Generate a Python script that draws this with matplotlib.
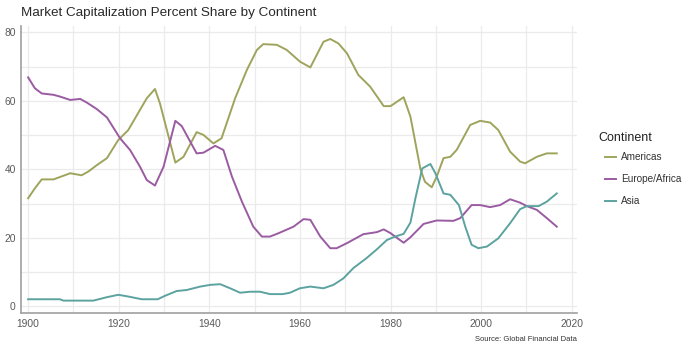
import matplotlib
matplotlib.use("Agg")
import matplotlib.pyplot as plt
from matplotlib.ticker import MultipleLocator

plt.rcParams['font.family'] = ['Liberation Sans', 'DejaVu Sans']

title = "Market Capitalization Percent Share by Continent"
source = "Source: Global Financial Data"
legend_title = "Continent"

americas_years = [1900, 1901.5, 1903, 1905.6, 1909.3, 1911.8, 1913.3, 1915.2, 1917.4, 1919.9,
                  1922.1, 1926.2, 1928, 1929.1, 1932.5, 1934.3, 1937.2, 1938.7, 1940.9, 1942.7,
                  1945.7, 1948.3, 1950.5, 1951.9, 1954.9, 1957.1, 1960, 1962.3, 1965.2, 1966.7,
                  1968.5, 1970.4, 1972.9, 1975.5, 1978.5, 1980, 1982.9, 1984.4, 1986.6, 1987.6,
                  1989.1, 1990.2, 1991.7, 1993.2, 1994.6, 1997.6, 1999.8, 2002, 2003.8, 2006.4,
                  2008.6, 2009.7, 2012.3, 2014.5, 2016.7]
americas = [31.6, 34.5, 37.1, 37.1, 38.9, 38.3, 39.4, 41.3, 43.3, 48.6,
            51.5, 60.8, 63.5, 59.3, 42.0, 43.7, 50.9, 50.1, 47.6, 49.1,
            60.8, 69.1, 74.9, 76.6, 76.4, 74.9, 71.5, 69.8, 77.3, 78.1,
            76.8, 73.9, 67.6, 64.2, 58.5, 58.5, 61.1, 55.4, 40.1, 36.4,
            34.8, 37.9, 43.3, 43.7, 45.7, 53.0, 54.2, 53.7, 51.5, 45.2,
            42.3, 41.8, 43.7, 44.7, 44.7]

europe_years = [1900, 1901.5, 1903, 1905.6, 1907, 1909.3, 1911.5, 1913, 1915.2, 1917.4,
                1920.3, 1922.5, 1924.7, 1926.2, 1928, 1929.9, 1932.5, 1933.9, 1937.2, 1938.7,
                1941.3, 1943.1, 1945, 1947.2, 1949.7, 1951.6, 1953.4, 1955.3, 1958.6, 1960.8,
                1962.3, 1964.5, 1966.7, 1968.1, 1970.4, 1974, 1977, 1978.5, 1980, 1982.9,
                1984.4, 1987.3, 1990.2, 1993.9, 1995.4, 1997.9, 1999.8, 2002, 2004.2, 2006.4,
                2008.6, 2010.1, 2012.3, 2014.5, 2016.7]
europe = [66.9, 63.7, 62.2, 61.8, 61.3, 60.3, 60.6, 59.5, 57.6, 55.2,
          49.1, 45.7, 40.8, 36.9, 35.3, 40.8, 54.2, 52.7, 44.7, 44.9,
          46.9, 45.7, 37.9, 30.6, 23.3, 20.4, 20.4, 21.4, 23.3, 25.5,
          25.3, 20.4, 17.0, 17.0, 18.5, 21.1, 21.7, 22.5, 21.4, 18.6,
          20.2, 24.1, 25.1, 25.0, 25.8, 29.6, 29.6, 29.0, 29.6, 31.3,
          30.3, 29.3, 28.2, 25.8, 23.3]

asia_years = [1900, 1907, 1907.8, 1914.4, 1917.4, 1919.9, 1922.1, 1925.1, 1928.6, 1930.2,
              1932.8, 1935, 1938, 1940.2, 1942.4, 1944.6, 1946.8, 1949, 1951.2, 1953.4,
              1956.2, 1957.8, 1960, 1962.3, 1965.2, 1967.4, 1969.6, 1971.8, 1974.7, 1977,
              1979.2, 1981, 1982.9, 1984.4, 1985.5, 1987, 1988.8, 1989.9, 1991.7, 1993.2,
              1995.1, 1996.5, 1997.9, 1999.4, 2001.3, 2003.8, 2006.4, 2008.6, 2010.1, 2012.7,
              2014.5, 2016.7]
asia = [2.1, 2.1, 1.7, 1.7, 2.7, 3.4, 2.9, 2.1, 2.1, 3.1,
        4.5, 4.8, 5.8, 6.3, 6.5, 5.3, 4.0, 4.3, 4.3, 3.6,
        3.6, 4.0, 5.3, 5.8, 5.3, 6.3, 8.2, 11.2, 14.1, 16.7,
        19.4, 20.4, 21.2, 24.5, 31.6, 40.3, 41.6, 38.9, 33.0, 32.6,
        29.6, 23.3, 18.0, 17.0, 17.5, 19.9, 24.3, 28.4, 29.3, 29.3,
        30.6, 33.0]

series = [("Americas", americas_years, americas, "#9FA45C"),
          ("Europe/Africa", europe_years, europe, "#9A5BA2"),
          ("Asia", asia_years, asia, "#5CA3A0")]

fig = plt.figure(figsize=(6.9, 3.55), dpi=100)
ax = fig.add_axes([0.0309, 0.1175, 0.8049, 0.8093])

for name, xs, ys, col in series:
    ax.plot(xs, ys, color=col, lw=1.4, label=name, solid_joinstyle='round')

ax.set_xlim(1898.5, 2021.1)
ax.set_ylim(-2.0, 81.9)
ax.xaxis.set_major_locator(MultipleLocator(20))
ax.xaxis.set_minor_locator(MultipleLocator(10))
ax.yaxis.set_major_locator(MultipleLocator(20))
ax.yaxis.set_minor_locator(MultipleLocator(10))
ax.grid(True, which='both', color='#EBEBEB', lw=0.9)
ax.set_axisbelow(True)
for s in ['top', 'right']:
    ax.spines[s].set_visible(False)
for s in ['left', 'bottom']:
    ax.spines[s].set_color('#A0A0A0')
    ax.spines[s].set_linewidth(1.2)
ax.tick_params(which='both', length=0, labelsize=7.4, labelcolor='#5A5A5A', pad=4)

fig.text(0.0309, 0.963, title, fontsize=9.7, color='#2A2A2A', ha='left', va='center')
fig.text(0.836, 0.045, source, fontsize=5.5, color='#333333', ha='right', va='center')

# legend title
fig.text(598 / 690, 1 - 138 / 355, legend_title, fontsize=9, color='#222222',
         ha='left', va='center')
leg = ax.legend(loc='upper left', bbox_to_anchor=(605 / 690, 1 - 152 / 355),
                bbox_transform=fig.transFigure, frameon=False, borderpad=0,
                borderaxespad=0, fontsize=7.2, handlelength=1.1,
                handletextpad=0.5, labelspacing=1.2)
for t in leg.get_texts():
    t.set_color('#333333')

fig.savefig('out.png', dpi=100)
